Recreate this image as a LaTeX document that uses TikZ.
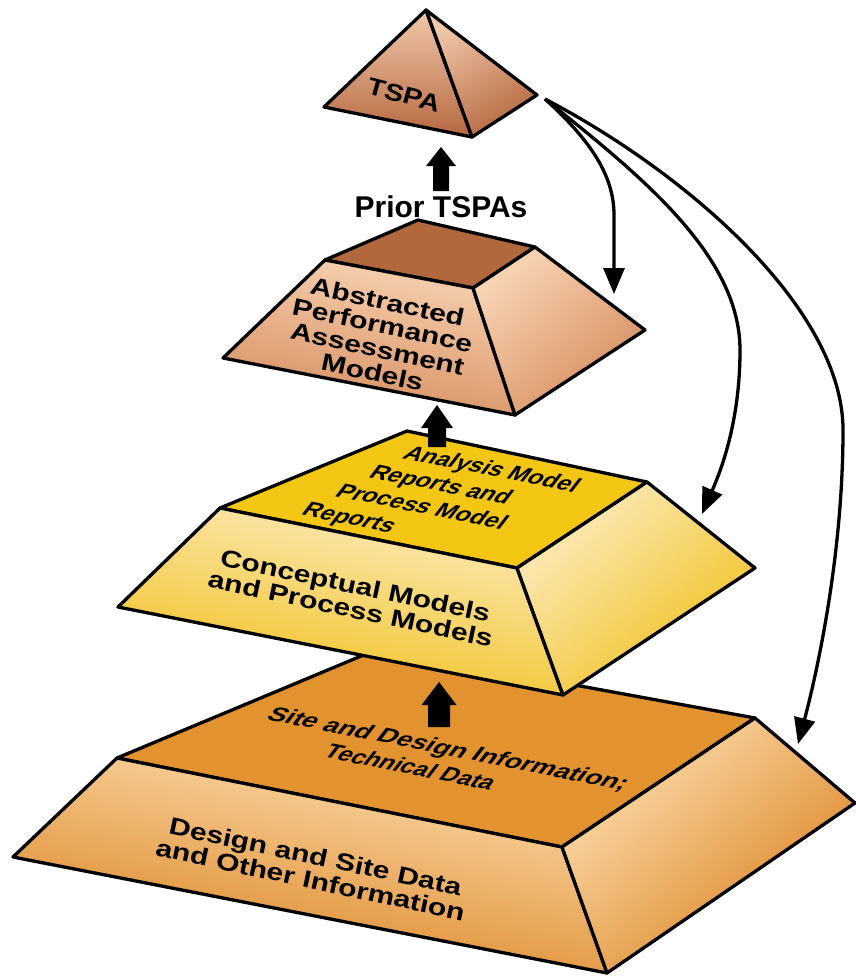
\documentclass[tikz,border=0pt]{standalone}
\usepackage{fontspec}
\setmainfont{Liberation Sans}
\usetikzlibrary{arrows.meta}

% face colours of the four levels
\definecolor{tspaLight}{HTML}{F0C8AA}
\definecolor{tspaDark}{HTML}{B66840}
\definecolor{apaTop}{HTML}{B0683C}
\definecolor{apaLight}{HTML}{F8D4B4}
\definecolor{apaDark}{HTML}{D58C5E}
\definecolor{cmTop}{HTML}{F2C613}
\definecolor{cmLight}{HTML}{FDEBC0}
\definecolor{cmDark}{HTML}{EFBF18}
\definecolor{dsTop}{HTML}{E2922E}
\definecolor{dsLight}{HTML}{FCDEB0}
\definecolor{dsDark}{HTML}{DA801C}

\begin{document}
\begin{tikzpicture}[x=1pt, y=-1pt, line join=round,
  outline/.style={draw=black, line width=3.3pt},
  frontface/.style={outline, top color=#1Light, bottom color=#1Dark, shading angle=-10},
  sideface/.style={outline, top color=#1Light, bottom color=#1Dark, shading angle=40},
  blockarrow/.style={fill=black, draw=none},
  flow/.style={draw=black, line width=3.3pt, -{Triangle[length=26pt, width=21pt]}},
  facetext/.style={font=\fontsize{24}{24}\selectfont\bfseries, align=center,
    inner sep=0pt, rotate=-12, xscale=1.25},
  % text lying on a top face: each line starts further left, as on the face
  toptext/.style={font=\fontsize{21}{21}\selectfont\bfseries, inner sep=0pt,
    anchor=base west, rotate=-11.3, xslant=0.5}
]
\useasboundingbox (0,0) rectangle (856,977);

% ---------- base level: design and site data ----------
\coordinate (dsB) at (378,649);
\coordinate (dsL) at (117,758);
\coordinate (dsF) at (562,847);
\coordinate (dsR) at (755,718);
\coordinate (dsLb) at (13,857);
\coordinate (dsFb) at (607,973);
\coordinate (dsRb) at (855,803);
\filldraw[outline, fill=dsTop] (dsB) -- (dsL) -- (dsF) -- (dsR) -- cycle;
\shade[frontface=ds] (dsL) -- (dsF) -- (dsFb) -- (dsLb) -- cycle;
\shade[sideface=ds] (dsF) -- (dsR) -- (dsRb) -- (dsFb) -- cycle;
\node[facetext] (dslabel) at (313,868) {Design and Site Data\\and Other Information};
\node[toptext, xscale=1.16] (sdlabel) at (265,719)
  {\vtop{\baselineskip=26pt
    \hbox{\scalebox{1.1}[1]{Site and Design Information;}}
    \hbox{\hspace*{65.8pt}Technical Data}}};
\fill[blockarrow] (439,682) -- (456.5,705) -- (450,705) -- (450,727)
  -- (428,727) -- (428,705) -- (421.5,705) -- cycle;

% ---------- second level: conceptual and process models ----------
\coordinate (cmB) at (407,431);
\coordinate (cmL) at (220,508);
\coordinate (cmF) at (517,568);
\coordinate (cmR) at (647,482);
\coordinate (cmLb) at (118,607);
\coordinate (cmFb) at (563,695);
\coordinate (cmRb) at (755,568);
\filldraw[outline, fill=cmTop] (cmB) -- (cmL) -- (cmF) -- (cmR) -- cycle;
\shade[frontface=cm] (cmL) -- (cmF) -- (cmFb) -- (cmLb) -- cycle;
\shade[sideface=cm] (cmF) -- (cmR) -- (cmRb) -- (cmFb) -- cycle;
\node[facetext] (cmlabel) at (353,597) {Conceptual Models\\and Process Models};
\node[toptext, xscale=1.15] (amlabel) at (352,448.2)
  {\vtop{\baselineskip=25.2pt
    \hbox{\hspace*{43.5pt}Analysis Model}
    \hbox{\hspace*{29pt}Reports and}
    \hbox{\hspace*{14.5pt}Process Model}
    \hbox{Reports}}};
\fill[blockarrow] (437,405) -- (453,428) -- (446,428) -- (446,447)
  -- (428,447) -- (428,428) -- (421,428) -- cycle;

% ---------- third level: abstracted performance assessment models ----------
\coordinate (apB) at (418,220);
\coordinate (apL) at (325,260);
\coordinate (apF) at (473,288);
\coordinate (apR) at (535,247);
\coordinate (apLb) at (223,358);
\coordinate (apFb) at (515,415);
\coordinate (apRb) at (645,330);
\filldraw[outline, fill=apaTop] (apB) -- (apL) -- (apF) -- (apR) -- cycle;
\shade[frontface=apa] (apL) -- (apF) -- (apFb) -- (apLb) -- cycle;
\shade[sideface=apa] (apF) -- (apR) -- (apRb) -- (apFb) -- cycle;
\node[facetext] (aplabel) at (380,337) {Abstracted\\Performance\\Assessment\\Models};

% ---------- apex: TSPA ----------
\coordinate (tA) at (426,10);
\coordinate (tL) at (324,107);
\coordinate (tF) at (472,137);
\coordinate (tR) at (537,95);
\shade[outline, top color=tspaLight, bottom color=tspaDark] (tA) -- (tL) -- (tF) -- cycle;
\shade[outline, top color=tspaLight, bottom color=tspaDark, shading angle=30] (tA) -- (tF) -- (tR) -- cycle;
\node[facetext, rotate=-3, xscale=0.95] (tspa) at (404,95) {TSPA};
\fill[blockarrow] (441,147) -- (456,166) -- (449,166) -- (449,191)
  -- (433,191) -- (433,166) -- (426,166) -- cycle;
\node[font=\fontsize{30}{30}\selectfont\bfseries, inner sep=0pt] (prior) at (441,207) {Prior TSPAs};

% ---------- feedback from TSPA to the lower levels ----------
\coordinate (src) at (545,99);
\coordinate (dstAP) at (614,294);
\coordinate (dstCM) at (702,514);
\coordinate (dstDS) at (798,744);
\draw[flow] (src) .. controls (590,140) and (614,175) .. (614,215) -- (dstAP);
\draw[flow] (src) .. controls (640,175) and (740,255) .. (740,350)
  .. controls (740,420) and (722,468) .. (dstCM);
\draw[flow] (src) .. controls (690,175) and (843,310) .. (843,430)
  .. controls (843,560) and (815,680) .. (dstDS);
\end{tikzpicture}
\end{document}
